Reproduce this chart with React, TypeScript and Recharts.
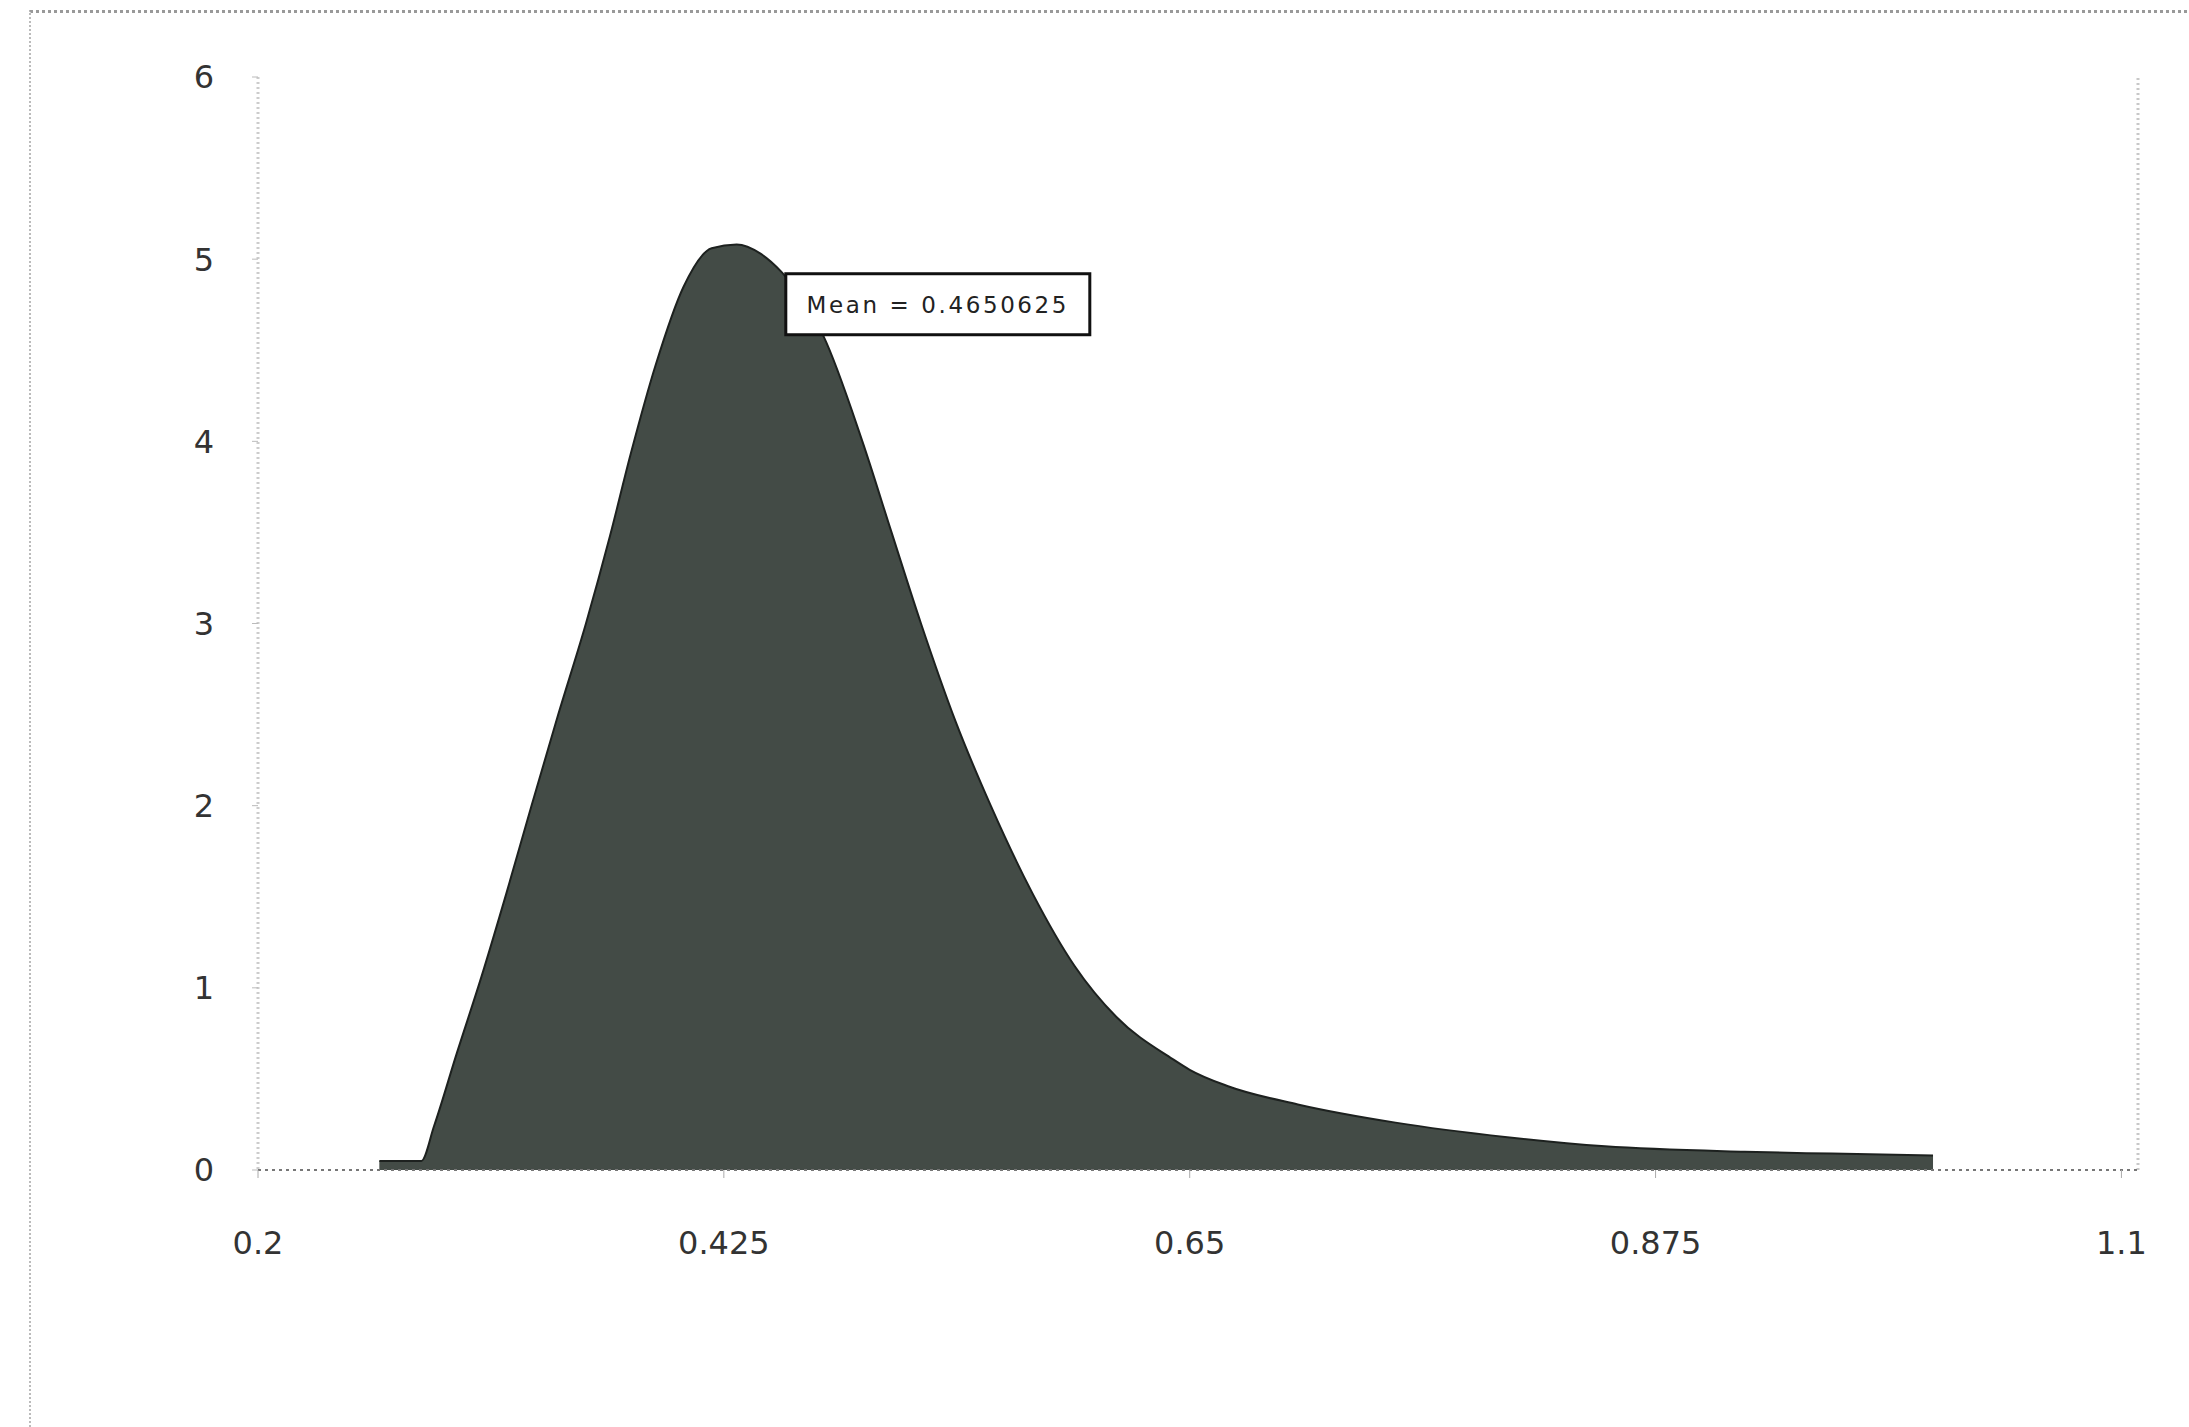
import { AreaChart, Area, XAxis, YAxis, ReferenceLine, ReferenceDot } from "recharts";

// density curve
const xValues = [
  0.2586, 0.2789, 0.285, 0.296, 0.3079, 0.32, 0.3321, 0.345, 0.3584, 0.37,
  0.38, 0.3921, 0.4056, 0.4191, 0.4312, 0.4427, 0.4528, 0.463, 0.473, 0.4919,
  0.506, 0.5202, 0.537, 0.5539, 0.574, 0.5944, 0.6146, 0.6416, 0.65, 0.6685,
  0.7022, 0.7494, 0.8034, 0.8506, 0.918, 0.96, 1.009,
];
const density = [
  0.05, 0.05, 0.24, 0.64, 1.06, 1.52, 2.0, 2.5, 3.0, 3.48,
  3.93, 4.42, 4.85, 5.06, 5.08, 5.03, 4.93, 4.78, 4.58, 4.0,
  3.5, 3.0, 2.46, 2.0, 1.52, 1.12, 0.84, 0.61, 0.55, 0.46,
  0.36, 0.26, 0.18, 0.13, 0.1, 0.09, 0.08,
];
const xTicks = [0.2, 0.425, 0.65, 0.875, 1.1];
const yTicks = [0, 1, 2, 3, 4, 5, 6];
const meanValue = 0.4650625;
const meanText = "Mean = 0.4650625";

const data = xValues.map((x, i) => ({ x, y: density[i] }));

const tickStyle = { fontFamily: "DejaVu Sans", fontSize: 32, fill: "#333" };

function MeanBox(props: any) {
  const { cx, cy } = props;
  return (
    <g>
      <rect x={cx - 21} y={cy} width={304} height={61} fill="#fff" stroke="#111" strokeWidth={3} />
      <text
        x={cx - 21 + 152}
        y={cy + 31}
        textAnchor="middle"
        dominantBaseline="central"
        fontFamily="DejaVu Sans"
        fontSize={23}
        letterSpacing={2.6}
        fill="#222"
      >
        {meanText}
      </text>
    </g>
  );
}

export default function App() {
  return (
    <div style={{ position: "absolute", left: 0, top: 0, width: 2189, height: 1427, overflow: "hidden", background: "#fff" }}>
      <div
        style={{
          position: "absolute",
          left: 29,
          top: 10,
          width: 2200,
          height: 1430,
          borderTop: "3px dotted #999",
          borderLeft: "2px dotted #bbb",
        }}
      />
      <AreaChart
        width={2189}
        height={1427}
        data={data}
        margin={{ top: 77, right: 51, left: 178, bottom: 197 }}
        style={{ position: "absolute", left: 0, top: 0 }}
      >
        <XAxis
          dataKey="x"
          type="number"
          domain={[0.2, 1.108]}
          ticks={xTicks}
          height={60}
          tick={tickStyle}
          tickSize={8}
          tickMargin={53}
          axisLine={{ stroke: "#777", strokeWidth: 2, strokeDasharray: "3 4" }}
          tickLine={{ stroke: "#aaa" }}
        />
        <YAxis
          type="number"
          domain={[0, 6]}
          ticks={yTicks}
          width={80}
          tick={tickStyle}
          tickSize={6}
          tickMargin={38}
          axisLine={{ stroke: "#ccc", strokeWidth: 3, strokeDasharray: "2 3" }}
          tickLine={{ stroke: "#bbb" }}
        />
        <ReferenceLine x={1.108} stroke="#c8c8c8" strokeWidth={3} strokeDasharray="2 3" />
        <Area
          type="monotone"
          dataKey="y"
          stroke="#1d211f"
          strokeWidth={2}
          fill="#434b46"
          fillOpacity={1}
          isAnimationActive={false}
          dot={false}
          activeDot={false}
        />
        <ReferenceDot x={meanValue} y={4.92} shape={MeanBox} />
      </AreaChart>
    </div>
  );
}
